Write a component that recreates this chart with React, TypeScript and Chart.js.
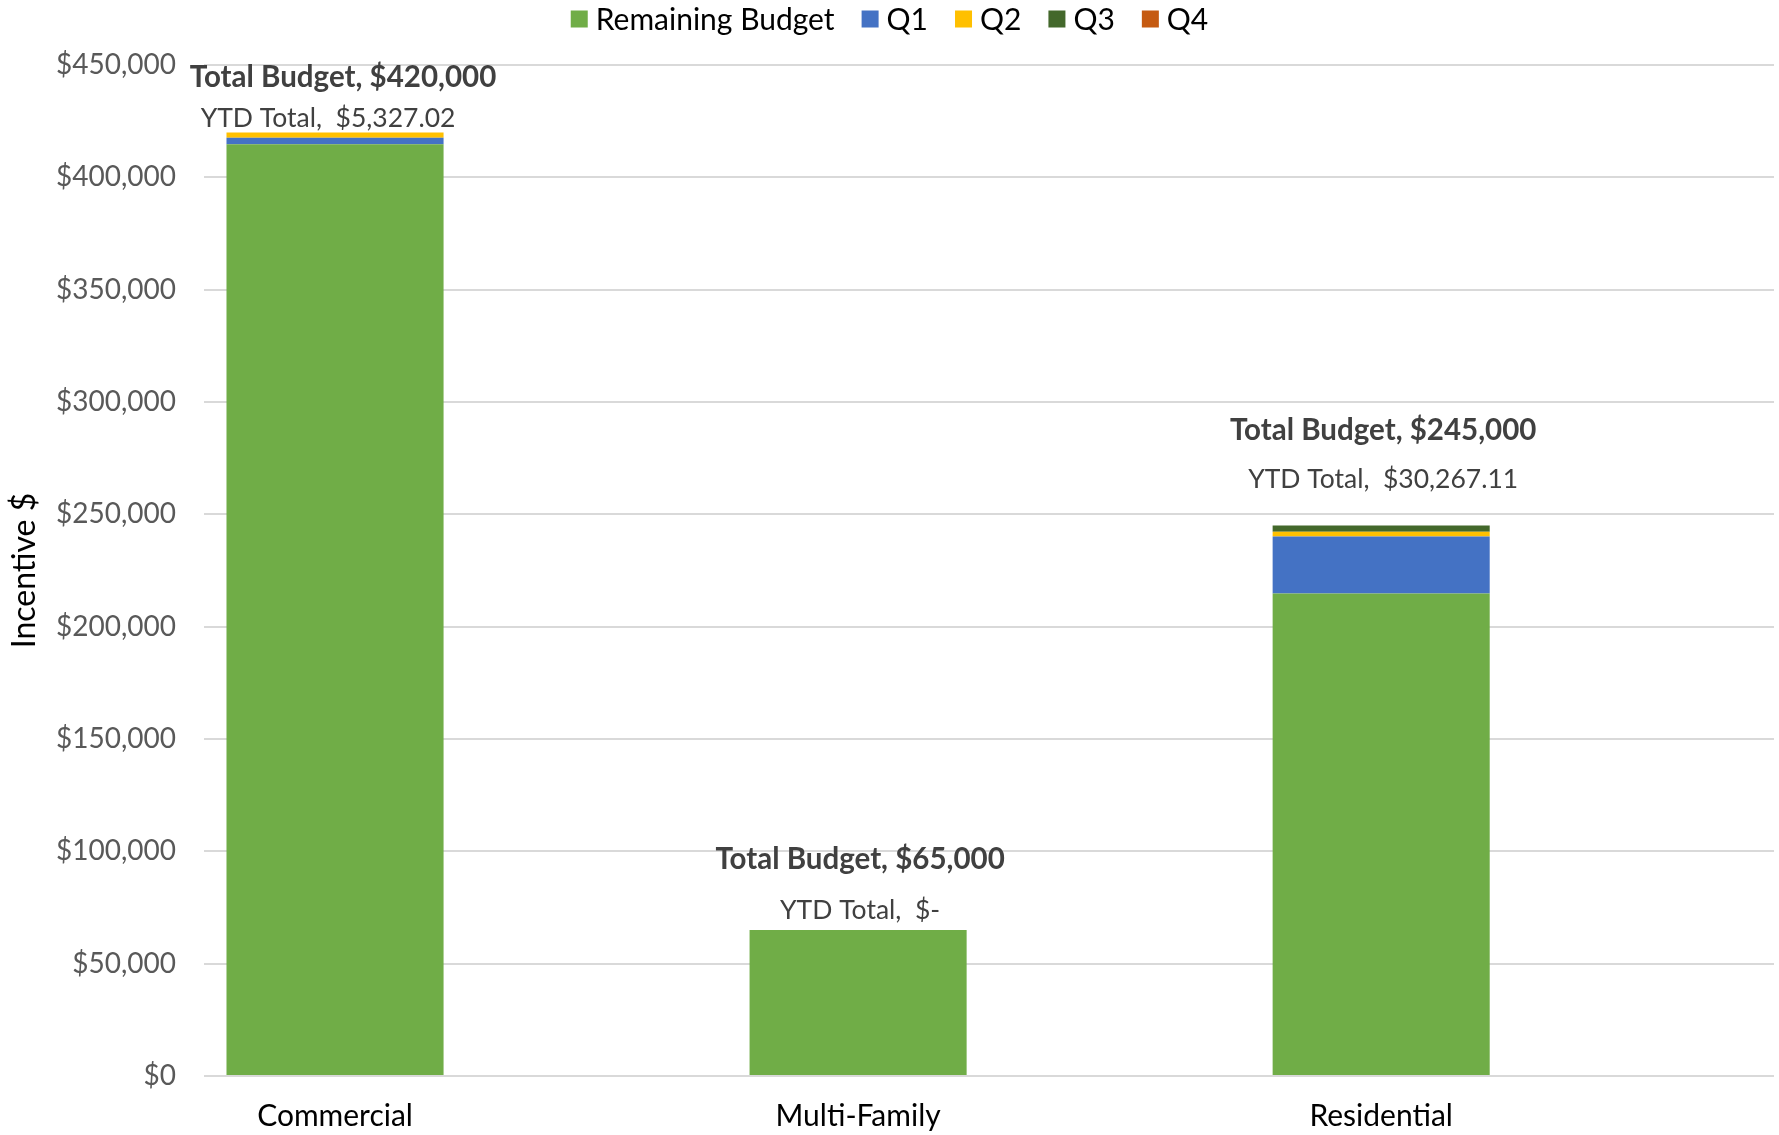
import React, { useEffect, useRef } from "react";
import { Chart, registerables } from "chart.js";

Chart.register(...registerables);

const categories = ["Commercial", "Multi-Family", "Residential"];
const remainingBudget = [414672.98, 65000, 214732.89];
const q1 = [2900, 0, 25400];
const q2 = [2427.02, 0, 2150];
const q3 = [0, 0, 2717.11];
const q4 = [0, 0, 0];
const totalBudgetLabels = ["Total Budget, $420,000", "Total Budget, $65,000", "Total Budget, $245,000"];
const ytdLabels = ["YTD Total,  $5,327.02", "YTD Total,  $-", "YTD Total,  $30,267.11"];
const yMax = 450000;
const yStep = 50000;

const FONT = "Lato, 'Open Sans', sans-serif";
// label placement (pixels relative to bar top / center)
const labelOffsets = [
  { dx: 8, total: 55, ytdDx: -7, ytd: 14 },
  { dx: 2, total: 70, ytdDx: 2, ytd: 20 },
  { dx: 2, total: 95, ytdDx: 2, ytd: 46 },
];

const seriesDefs = [
  { label: "Remaining Budget", data: remainingBudget, color: "#70AD47" },
  { label: "Q1", data: q1, color: "#4472C4" },
  { label: "Q2", data: q2, color: "#FFC000" },
  { label: "Q3", data: q3, color: "#43682B" },
  { label: "Q4", data: q4, color: "#C55A11" },
];

const labelPlugin = {
  id: "budgetLabels",
  afterDatasetsDraw(chart: any) {
    const { ctx, scales } = chart;
    const xs = scales.x;
    const ys = scales.y;
    ctx.save();
    ctx.textAlign = "center";
    ctx.textBaseline = "middle";
    categories.forEach((_, i) => {
      const total = remainingBudget[i] + q1[i] + q2[i] + q3[i] + q4[i];
      const x = xs.getPixelForValue(i);
      const y = ys.getPixelForValue(total);
      const o = labelOffsets[i];
      ctx.fillStyle = "#404040";
      ctx.font = `bold 29.5px ${FONT}`;
      ctx.fillText(totalBudgetLabels[i], x + o.dx, y - o.total);
      ctx.font = `26.5px ${FONT}`;
      ctx.fillText(ytdLabels[i], x + o.ytdDx, y - o.ytd);
    });
    // y axis title
    ctx.save();
    ctx.translate(25, (ys.top + ys.bottom) / 2);
    ctx.rotate(-Math.PI / 2);
    ctx.fillStyle = "#000000";
    ctx.font = `32px ${FONT}`;
    ctx.fillText("Incentive $", 0, 0);
    ctx.restore();
    // legend
    ctx.font = `30px ${FONT}`;
    ctx.textAlign = "left";
    const box = 17, gapText = 8, gapItem = 27;
    const widths = seriesDefs.map((s) => box + gapText + ctx.measureText(s.label).width);
    const totalW = widths.reduce((a, b) => a + b, 0) + gapItem * (widths.length - 1);
    let lx = chart.width / 2 - totalW / 2;
    const ly = 19;
    seriesDefs.forEach((s, i) => {
      ctx.fillStyle = s.color;
      ctx.fillRect(lx, ly - box / 2, box, box);
      ctx.fillStyle = "#000000";
      ctx.fillText(s.label, lx + box + gapText, ly + 1);
      lx += widths[i] + gapItem;
    });
    ctx.restore();
  },
};

export default function App() {
  const ref = useRef<HTMLCanvasElement | null>(null);
  useEffect(() => {
    if (!ref.current) return;
    const chart = new Chart(ref.current, {
      type: "bar",
      data: {
        labels: categories,
        datasets: seriesDefs.map((s) => ({
          label: s.label,
          data: s.data.map((v, i) => ({ x: i, y: v })),
          backgroundColor: s.color,
          borderWidth: 0,
          categoryPercentage: 1,
          barPercentage: 0.415,
        })),
      },
      options: {
        responsive: false,
        animation: false,
        layout: { padding: { left: 0, right: 5, top: 65, bottom: 0 } },
        plugins: {
          legend: { display: false },
          tooltip: { enabled: false },
        },
        scales: {
          x: {
            type: "linear",
            stacked: true,
            offset: false,
            min: -0.2505,
            max: 2.751,
            afterBuildTicks(scale: any) {
              scale.ticks = categories.map((_, i) => ({ value: i }));
            },
            afterFit(scale: any) {
              scale.height = 59;
            },
            grid: { display: false, drawTicks: false },
            border: { display: false },
            ticks: {
              autoSkip: false,
              maxRotation: 0,
              color: "#000000",
              font: { family: FONT, size: 30 },
              padding: 22,
              callback: (v: any) => categories[Math.round(Number(v))] ?? "",
            },
          },
          y: {
            stacked: true,
            min: 0,
            max: yMax,
            afterFit(scale: any) {
              scale.width = 204;
            },
            grid: { color: "#D9D9D9", lineWidth: 2, drawTicks: false },
            border: { display: false },
            ticks: {
              stepSize: yStep,
              color: "#595959",
              padding: 28,
              font: { family: FONT, size: 28 },
              callback: (v: any) => "$" + Number(v).toLocaleString("en-US"),
            },
          },
        },
      },
      plugins: [labelPlugin],
    });
    return () => chart.destroy();
  }, []);
  return (
    <div style={{ position: "fixed", left: 0, top: 0, width: 1779, height: 1135, background: "#fff" }}>
      <canvas ref={ref} width={1779} height={1135} style={{ width: 1779, height: 1135 }} />
    </div>
  );
}
